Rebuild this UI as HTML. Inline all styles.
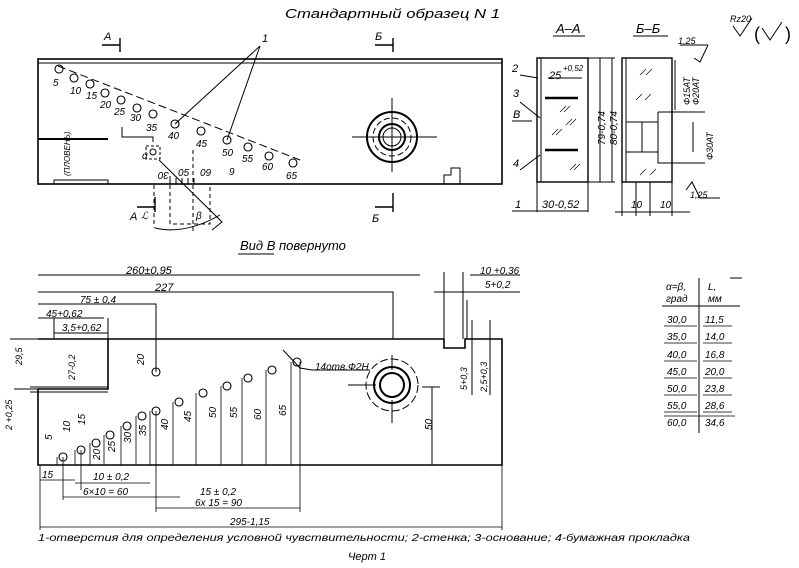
<!DOCTYPE html>
<html><head><meta charset="utf-8"><style>
html,body{margin:0;padding:0;background:#fff;}
svg{display:block;}
text{font-family:"Liberation Sans",sans-serif;font-style:italic;fill:#000;}
</style></head><body>
<svg width="799" height="568" viewBox="0 0 799 568" xmlns="http://www.w3.org/2000/svg" stroke="#000" fill="none" stroke-width="1">
<!-- title -->
<text x="285" y="18" font-size="13" stroke="none" textLength="215" lengthAdjust="spacingAndGlyphs">Стандартный   образец  N 1</text>

<!-- TOP VIEW -->
<rect x="38" y="59" width="464" height="125" stroke-width="1.6"/>
<line x1="38" y1="63" x2="502" y2="63"/>
<line x1="38" y1="139" x2="108" y2="139" stroke-width="2"/>
<rect x="54" y="180" width="54" height="4"/>
<text x="70" y="176" font-size="8" stroke="none" transform="rotate(-90 70 176)">(ПЛОВЕНЬ)</text>
<path d="M120 38 V52 M102 45 H120" stroke-width="1.4"/>
<text x="104" y="40" font-size="11" stroke="none">А</text>
<path d="M393 38 V52 M375 45 H393" stroke-width="1.4"/>
<text x="375" y="40" font-size="11" stroke="none">Б</text>
<path d="M155 197 V212 M137 207 H155" stroke-width="1.4"/>
<text x="130" y="220" font-size="11" stroke="none">А</text>
<path d="M393 193 V212 M375 207 H393" stroke-width="1.4"/>
<text x="372" y="222" font-size="11" stroke="none">Б</text>
<text x="262" y="42" font-size="11" stroke="none">1</text>
<path d="M260 46 L175 124 M260 46 L227 140"/>
<path d="M58 66 L300 160" stroke-dasharray="8,4"/>
<g stroke-width="1.1">
<circle cx="59" cy="69" r="4"/><circle cx="74" cy="78" r="4"/><circle cx="90" cy="84" r="4"/><circle cx="105" cy="93" r="4"/><circle cx="121" cy="100" r="4"/><circle cx="137" cy="108" r="4"/><circle cx="153" cy="114" r="4"/><circle cx="175" cy="124" r="4"/><circle cx="201" cy="131" r="4"/><circle cx="227" cy="140" r="4"/><circle cx="248" cy="147" r="4"/><circle cx="269" cy="156" r="4"/><circle cx="293" cy="163" r="4"/>
</g>
<g font-size="10" stroke="none">
<text x="53" y="86">5</text><text x="70" y="94">10</text><text x="86" y="99">15</text><text x="100" y="108">20</text><text x="114" y="115">25</text><text x="130" y="121">30</text><text x="146" y="131">35</text><text x="168" y="139">40</text><text x="196" y="147">45</text><text x="222" y="156">50</text><text x="242" y="162">55</text><text x="262" y="170">60</text><text x="286" y="179">65</text>
<text x="155" y="180" transform="rotate(180 162 176)">30</text>
<text x="178" y="176">05</text><text x="200" y="176">09</text><text x="229" y="175">9</text>
<text x="141" y="219">ℒ</text><text x="196" y="219">β</text><text x="142" y="159">α</text>
</g>
<rect x="146" y="146" width="14" height="13" stroke-dasharray="3,2"/>
<circle cx="153" cy="152" r="3"/>
<path d="M122 127 V137 H153 V142 M159 160 L222 222 L212 230"/>
<path d="M154 185 V228 M170 185 V224 H210 V185 M193 150 V232" stroke-dasharray="4,3"/>
<path d="M155 228 Q185 235 220 215"/>
<path d="M170 184 L170 176 M176 184 V178 M182 184 V178 M188 184 V178 M194 184 V178"/>
<circle cx="392" cy="137" r="25" stroke-width="2"/>
<circle cx="392" cy="137" r="19" stroke-dasharray="6,3"/>
<circle cx="392" cy="137" r="13" stroke-width="2"/>
<circle cx="392" cy="137" r="9"/>
<path d="M352 137 H437 M392 98 V172"/>
<path d="M444 184 V175 H451 V168 H460 V184"/>

<!-- SECTION A-A -->
<text x="556" y="33" font-size="13" stroke="none">А–А</text>
<line x1="553" y1="36" x2="585" y2="36"/>
<rect x="537" y="58" width="51" height="124" stroke-width="1.4"/>
<line x1="541" y1="58" x2="541" y2="182"/>
<path d="M545 98 H578 M545 150 H578" stroke-width="2.5"/>
<path d="M548 78 H582 M600 58 V182 M612 58 V182 M588 58 H615 M588 182 H615"/>
<text x="549" y="79" font-size="11" stroke="none">25</text><text x="563" y="71" font-size="8" stroke="none">+0,52</text>
<text x="605" y="145" font-size="10" stroke="none" transform="rotate(-90 605 145)">79-0,74</text>
<text x="617" y="145" font-size="10" stroke="none" transform="rotate(-90 617 145)">80-0,74</text>
<text x="512" y="72" font-size="11" stroke="none">2</text>
<text x="513" y="97" font-size="11" stroke="none">3</text>
<text x="513" y="118" font-size="11" stroke="none">В</text>
<line x1="512" y1="121" x2="532" y2="121"/>
<text x="513" y="167" font-size="11" stroke="none">4</text>
<path d="M520 75 L538 78 M520 102 L540 118 M520 170 L540 155"/>
<path d="M537 182 V212 M588 182 V212 M512 211 H588"/>
<text x="515" y="208" font-size="11" stroke="none">1</text>
<text x="542" y="208" font-size="11" stroke="none">30-0,52</text>
<g stroke-width="0.7"><path d="M560 112 l6 -6 M564 112 l6 -6 M552 135 l6 -6 M556 135 l6 -6 M570 170 l6 -6 M574 170 l6 -6 M566 125 l6 -6 M570 125 l6 -6"/></g>

<!-- SECTION Б-Б -->
<text x="636" y="33" font-size="13" stroke="none">Б–Б</text>
<line x1="633" y1="36" x2="668" y2="36"/>
<rect x="622" y="58" width="50" height="124" stroke-width="1.4"/>
<line x1="626" y1="58" x2="626" y2="182"/>
<path d="M626 122 H658 M626 152 H658 M642 122 V152 M658 112 H672 V163 H658 V112 M672 112 H705 M672 163 H705 M693 122 V152"/>
<g stroke-width="0.7"><path d="M640 75 l6 -6 M646 75 l6 -6 M636 100 l6 -6 M645 100 l6 -6 M640 175 l6 -6 M650 175 l6 -6"/></g>
<path d="M622 182 V216 M636 182 V216 M650 182 V216 M672 182 V216 M615 212 H690"/>
<text x="631" y="208" font-size="10" stroke="none">10</text><text x="660" y="208" font-size="10" stroke="none">10</text>
<text x="690" y="105" font-size="9" stroke="none" transform="rotate(-90 690 105)">Ф15АТ</text>
<text x="699" y="105" font-size="9" stroke="none" transform="rotate(-90 699 105)">Ф20АТ</text>
<text x="713" y="160" font-size="9" stroke="none" transform="rotate(-90 713 160)">Ф30АТ</text>
<path d="M694 58 L700 62 L708 45 M680 45 H708 M675 60 V110"/>
<text x="678" y="44" font-size="9" stroke="none">1,25</text>
<path d="M686 190 L692 182 L700 198 H720"/>
<text x="690" y="198" font-size="9" stroke="none">1,25</text>
<text x="730" y="22" font-size="9" stroke="none">Rz20</text>
<path d="M733 26 L740 36 L752 18"/>
<text x="754" y="40" font-size="18" stroke="none" style="font-style:normal">(</text>
<path d="M762 28 L770 40 L782 22"/>
<text x="785" y="40" font-size="18" stroke="none" style="font-style:normal">)</text>

<!-- VIEW B -->
<text x="240" y="250" font-size="13" stroke="none">Вид В повернуто</text>
<line x1="238" y1="254" x2="274" y2="254"/>
<path d="M38 339 H444 V348 H465 V339 H502 V465 H38 V389 H108 V339" stroke-width="1.6"/>
<path d="M30 387 H108 M30 392 H108"/>
<path d="M444 339 V272 M463 339 V272 M467 339 V300"/>
<path d="M38 275 H420 M470 275 H520 M38 292 H393 V339 M434 292 H520 M38 304 H156 V372 M38 318 H104 M54 333 H108 M54 339 V318 M108 339 V318"/>
<text x="126" y="274" font-size="11" stroke="none">260±0,95</text>
<text x="155" y="291" font-size="11" stroke="none">227</text>
<text x="80" y="303" font-size="10" stroke="none">75 ± 0,4</text>
<text x="46" y="317" font-size="10" stroke="none">45+0,62</text>
<text x="62" y="331" font-size="10" stroke="none">3,5+0,62</text>
<text x="480" y="274" font-size="10" stroke="none">10 +0,36</text>
<text x="485" y="288" font-size="10" stroke="none">5+0,2</text>
<text x="75" y="380" font-size="9" stroke="none" transform="rotate(-90 75 380)">27-0,2</text>
<text x="144" y="365" font-size="10" stroke="none" transform="rotate(-90 144 365)">20</text>
<text x="22" y="365" font-size="9" stroke="none" transform="rotate(-90 22 365)">29,5</text>
<text x="12" y="430" font-size="9" stroke="none" transform="rotate(-90 12 430)">2 +0,25</text>
<path d="M10 339 H38 M14 389 H38"/>
<text x="467" y="390" font-size="9" stroke="none" transform="rotate(-90 467 390)">5+0,3</text>
<text x="487" y="392" font-size="9" stroke="none" transform="rotate(-90 487 392)">2,5+0,3</text>
<path d="M472 320 V395 M490 320 V395"/>
<text x="432" y="430" font-size="10" stroke="none" transform="rotate(-90 432 430)">50</text>
<path d="M422 387 H440 M432 387 V465"/>
<circle cx="392" cy="385" r="26" stroke-dasharray="8,3"/>
<circle cx="392" cy="385" r="18" stroke-width="2"/>
<circle cx="392" cy="385" r="12" stroke-width="2"/>
<path d="M348 385 H376 M392 355 V370 M392 400 V423"/>
<text x="315" y="370" font-size="10" stroke="none">14отв.Ф2Н</text>
<path d="M283 350 L300 368 L312 370 H370"/>
<g stroke-width="1.1">
<circle cx="63" cy="457" r="4"/><circle cx="81" cy="450" r="4"/><circle cx="96" cy="443" r="4"/><circle cx="110" cy="435" r="4"/><circle cx="127" cy="426" r="4"/><circle cx="142" cy="416" r="4"/><circle cx="156" cy="411" r="4"/><circle cx="179" cy="402" r="4"/><circle cx="203" cy="393" r="4"/><circle cx="227" cy="386" r="4"/><circle cx="248" cy="378" r="4"/><circle cx="272" cy="370" r="4"/><circle cx="297" cy="362" r="4"/><circle cx="156" cy="372" r="4"/>
</g>
<g stroke-width="0.8">
<path d="M57 457 V465 M75 450 V465 M90 443 V465 M104 435 V465 M121 426 V465 M136 416 V465 M150 411 V465 M173 402 V465 M196 393 V465 M221 386 V465 M242 378 V465 M266 370 V465 M291 362 V465 M300 362 V512 M40 465 V530 M502 465 V530 M40 527 H502 M63 457 V500 M81 450 V490 M156 411 V512"/>
<path d="M40 480 H75 M75 483 H150 M63 497 H180 M156 497 H180 M156 508 H300"/>
</g>
<g font-size="10" stroke="none">
<text x="52" y="440" transform="rotate(-90 52 440)">5</text>
<text x="70" y="432" transform="rotate(-90 70 432)">10</text>
<text x="85" y="425" transform="rotate(-90 85 425)">15</text>
<text x="100" y="460" transform="rotate(-90 100 460)">20</text>
<text x="115" y="452" transform="rotate(-90 115 452)">25</text>
<text x="131" y="443" transform="rotate(-90 131 443)">30</text>
<text x="146" y="436" transform="rotate(-90 146 436)">35</text>
<text x="168" y="430" transform="rotate(-90 168 430)">40</text>
<text x="191" y="422" transform="rotate(-90 191 422)">45</text>
<text x="216" y="418" transform="rotate(-90 216 418)">50</text>
<text x="237" y="418" transform="rotate(-90 237 418)">55</text>
<text x="261" y="420" transform="rotate(-90 261 420)">60</text>
<text x="286" y="416" transform="rotate(-90 286 416)">65</text>
<text x="42" y="478">15</text>
<text x="93" y="480">10 ± 0,2</text>
<text x="83" y="495">6×10 = 60</text>
<text x="200" y="495">15 ± 0,2</text>
<text x="195" y="506">6x 15 = 90</text>
<text x="230" y="525">295-1,15</text>
</g>

<!-- TABLE -->
<path d="M699 278 V433 M662 306 H740 M730 278 H742"/>
<g font-size="10" stroke="none">
<text x="666" y="290">α=β,</text><text x="666" y="302">град</text>
<text x="708" y="290">L,</text><text x="708" y="302">мм</text>
<text x="667" y="323">30,0</text><text x="705" y="323">11,5</text>
<text x="667" y="340">35,0</text><text x="705" y="340">14,0</text>
<text x="667" y="358">40,0</text><text x="705" y="358">16,8</text>
<text x="667" y="375">45,0</text><text x="705" y="375">20,0</text>
<text x="667" y="392">50,0</text><text x="705" y="392">23,8</text>
<text x="667" y="409">55,0</text><text x="705" y="409">28,6</text>
<text x="667" y="426">60,0</text><text x="705" y="426">34,6</text>
</g>
<path d="M664 326 H697 M703 326 H732 M664 343 H697 M703 343 H732 M664 361 H697 M703 361 H732 M664 378 H697 M703 378 H732 M664 395 H697 M703 395 H732 M664 412 H697 M703 412 H732 M664 416 H735" stroke-width="0.8"/>

<!-- caption -->
<text x="38" y="541" font-size="10.5" stroke="none" textLength="652" lengthAdjust="spacingAndGlyphs">1-отверстия  для определения условной чувствительности; 2-стенка;  3-основание;  4-бумажная  прокладка</text>
<text x="348" y="560" font-size="11" stroke="none">Черт 1</text>
</svg>
</body></html>
